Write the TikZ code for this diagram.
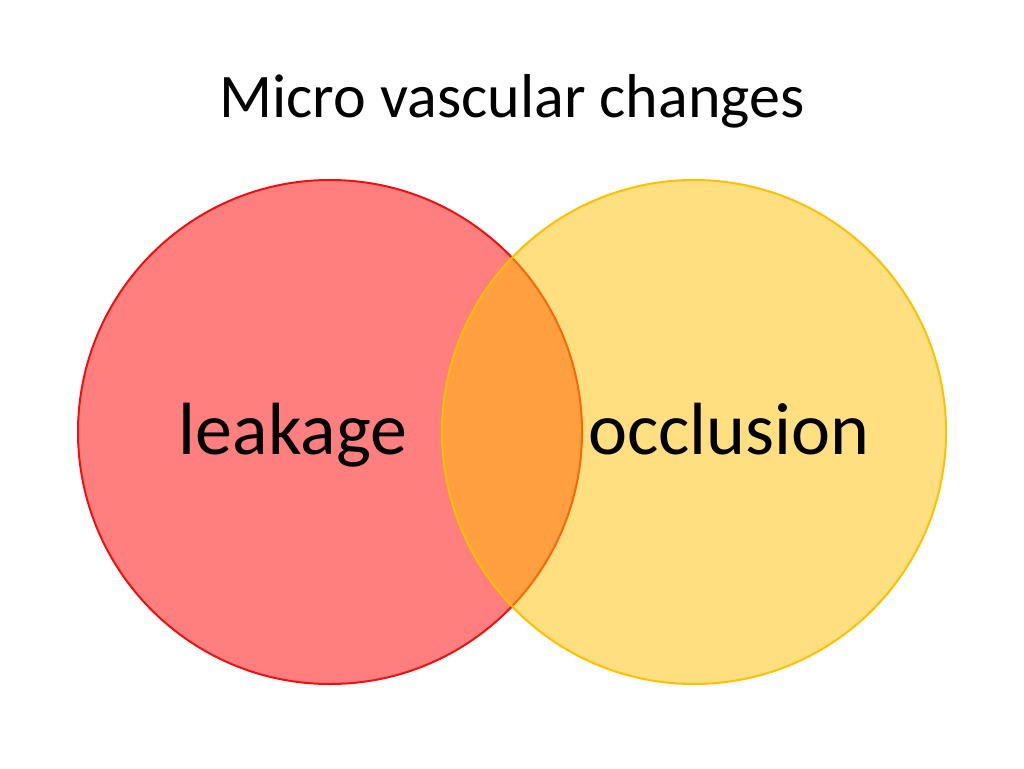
\documentclass[tikz,border=0pt]{standalone}
\usepackage{fontspec}
\setmainfont{Carlito}
\definecolor{redC}{HTML}{FF0000}
\definecolor{redB}{HTML}{EE1111}
\definecolor{yelC}{HTML}{FFC000}
\tikzset{
  lbl/.style={anchor=base, inner sep=0pt, font=\fontsize{74}{80}\selectfont},
  ttl/.style={anchor=base, inner sep=0pt, font=\fontsize{62}{70}\selectfont},
}
\begin{document}
\begin{tikzpicture}[x=1pt,y=-1pt]
\useasboundingbox[fill=white] (0,0) rectangle (1024,768);
\node[ttl] (title) at (512,117) {Micro vascular changes};
\fill[redC, fill opacity=0.5] (330,432) circle (252);
\draw[redB, line width=2pt] (330,432) circle (252);
\fill[yelC, fill opacity=0.5] (694,432) circle (252);
\draw[yelC, line width=2pt] (694,432) circle (252);
\node[lbl] (leak) at (293,454) {leakage};
\node[lbl] (occl) at (729,454) {occlusion};
\end{tikzpicture}
\end{document}
